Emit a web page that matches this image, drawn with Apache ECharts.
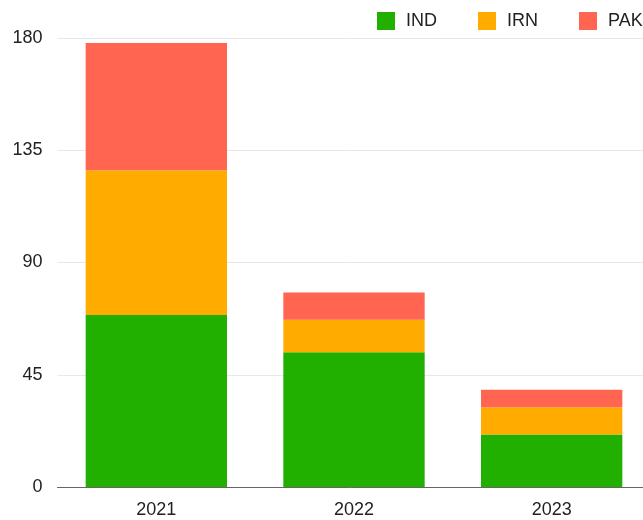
<!DOCTYPE html>
<html><head><meta charset="utf-8">
<script src="https://cdn.jsdelivr.net/npm/echarts@6/dist/echarts.min.js"></script>
<style>html,body{margin:0;padding:0;background:#fff}#c{width:643px;height:520px}</style>
</head><body><div id="c"></div>
<script>
const categories = ['2021', '2022', '2023'];
const seriesNames = ['IND', 'IRN', 'PAK'];
const IND = [69, 54, 21];
const IRN = [58, 13, 11];
const PAK = [51, 11, 7];
const yTicks = [0, 45, 90, 135, 180];
const colors = ['#21b000', '#ffab00', '#ff6550'];

const chart = echarts.init(document.getElementById('c'), null, {renderer: 'canvas'});
const font = "'Liberation Sans', Arial, sans-serif";
chart.setOption({
  animation: false,
  color: colors,
  legend: {
    data: seriesNames,
    left: 377, top: 12, width: 320, padding: 0,
    itemWidth: 18, itemHeight: 18, itemGap: 41,
    icon: 'rect',
    textStyle: {fontFamily: font, fontSize: 18, color: '#222', padding: [0, 0, 0, 6]}
  },
  grid: {left: 57.5, width: 593, top: 38, bottom: 33, containLabel: false, outerBoundsMode: 'none'},
  xAxis: {
    type: 'category', data: categories,
    axisLine: {lineStyle: {color: '#666'}},
    axisTick: {show: false},
    axisLabel: {fontFamily: font, fontSize: 18, color: '#222', margin: 14}
  },
  yAxis: {
    type: 'value', min: yTicks[0], max: yTicks[yTicks.length - 1], interval: 45,
    axisLine: {show: false}, axisTick: {show: false},
    splitLine: {lineStyle: {color: '#e8e8e8'}},
    axisLabel: {fontFamily: font, fontSize: 18, color: '#222', margin: 15}
  },
  series: [
    {name: 'IND', type: 'bar', stack: 't', data: IND, barCategoryGap: '28.5%'},
    {name: 'IRN', type: 'bar', stack: 't', data: IRN},
    {name: 'PAK', type: 'bar', stack: 't', data: PAK}
  ]
});
</script></body></html>
